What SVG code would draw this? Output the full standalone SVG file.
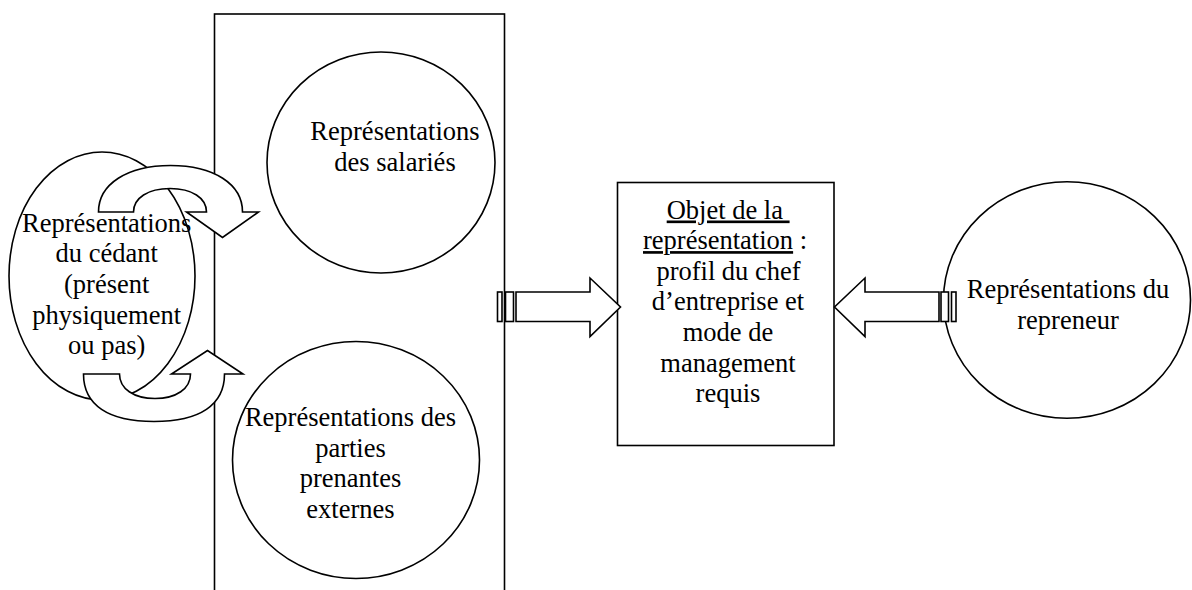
<svg xmlns="http://www.w3.org/2000/svg" width="1192" height="590" viewBox="0 0 1192 590">
<style>
.s{fill:#fff;stroke:#000;stroke-width:1.6}
.t{font-family:"Liberation Serif","Times New Roman",serif;font-size:26.5px;fill:#000;text-anchor:middle}
.ts{font-family:"Liberation Serif","Times New Roman",serif;font-size:26.5px;fill:#000}
</style>
<rect width="1192" height="590" fill="#fff"/>
<g id="groupe">
<rect class="s" x="214.5" y="14" width="290" height="590"/>
</g>
<g id="salaries">
<ellipse class="s" cx="381" cy="162.5" rx="114" ry="110.5"/>
<text class="t" x="395" y="140">Représentations</text>
<text class="t" x="395" y="170.6">des salariés</text>
</g>
<g id="parties">
<ellipse class="s" cx="356" cy="460" rx="123.5" ry="118.5"/>
<text class="t" x="350.5" y="426">Représentations des</text>
<text class="t" x="350.5" y="456.7">parties</text>
<text class="t" x="350.5" y="487.3">prenantes</text>
<text class="t" x="350.5" y="518">externes</text>
</g>
<g id="cedant">
<ellipse class="s" cx="102" cy="276" rx="93" ry="124"/>
<text class="t" x="106.7" y="231.5">Représentations</text>
<text class="t" x="106.7" y="262.2">du cédant</text>
<text class="t" x="106.7" y="292.9">(présent</text>
<text class="t" x="106.7" y="323.6">physiquement</text>
<text class="t" x="106.7" y="354.3">ou pas)</text>
</g>
<g id="objet">
<rect class="s" x="617.5" y="182.5" width="216.5" height="263"/>
<text class="ts" x="666.7" y="218.5" xml:space="preserve"><tspan text-decoration="underline">Objet de la </tspan></text>
<text class="ts" x="643" y="249.1"><tspan text-decoration="underline">représentation</tspan> :</text>
<text class="t" x="728.5" y="279.7">profil du chef</text>
<text class="t" x="728" y="310.3">d’entreprise et</text>
<text class="t" x="728" y="340.9">mode de</text>
<text class="t" x="728" y="371.5">management</text>
<text class="t" x="728" y="402.1">requis</text>
</g>
<g id="repreneur">
<ellipse class="s" cx="1067" cy="300" rx="123.5" ry="118.3"/>
<text class="t" x="1068" y="298.3">Représentations du</text>
<text class="t" x="1068" y="328.6">repreneur</text>
</g>
<g id="connectors">
<path class="s" d="M98.5,212 C98.5,184.1 127.3,165.5 170.5,165.5 C213.7,165.5 242.5,184.1 242.5,212 L258.5,212 L222.5,237.5 L186.5,212 L206.5,212 C206.5,197.9 191.9,188.5 170,188.5 C148.1,188.5 133.5,197.9 133.5,212 Z"/>
<path class="s" d="M83.5,374 L119.5,374 C119.5,388.7 133.7,398.5 155,398.5 C176.3,398.5 190.5,388.7 190.5,374 L171.5,374 L207.5,350.5 L243,374 L224.5,374 C224.5,404.9 199.8,421.5 154,421.5 C108.2,421.5 83.5,404.9 83.5,374 Z"/>
<rect class="s" x="497.5" y="292" width="4.5" height="29.5"/>
<rect class="s" x="505.5" y="292" width="8" height="29.5"/>
<path class="s" d="M516,292 L590,292 L590,278 L620.5,307 L590,336.5 L590,321.5 L516,321.5 Z"/>
<path class="s" d="M939,292 L865,292 L865,278 L834.5,307 L865,336.5 L865,321.5 L939,321.5 Z"/>
<rect class="s" x="941" y="292" width="7.5" height="29.5"/>
<rect class="s" x="951.5" y="292" width="4.5" height="29.5"/>
</g>
</svg>
